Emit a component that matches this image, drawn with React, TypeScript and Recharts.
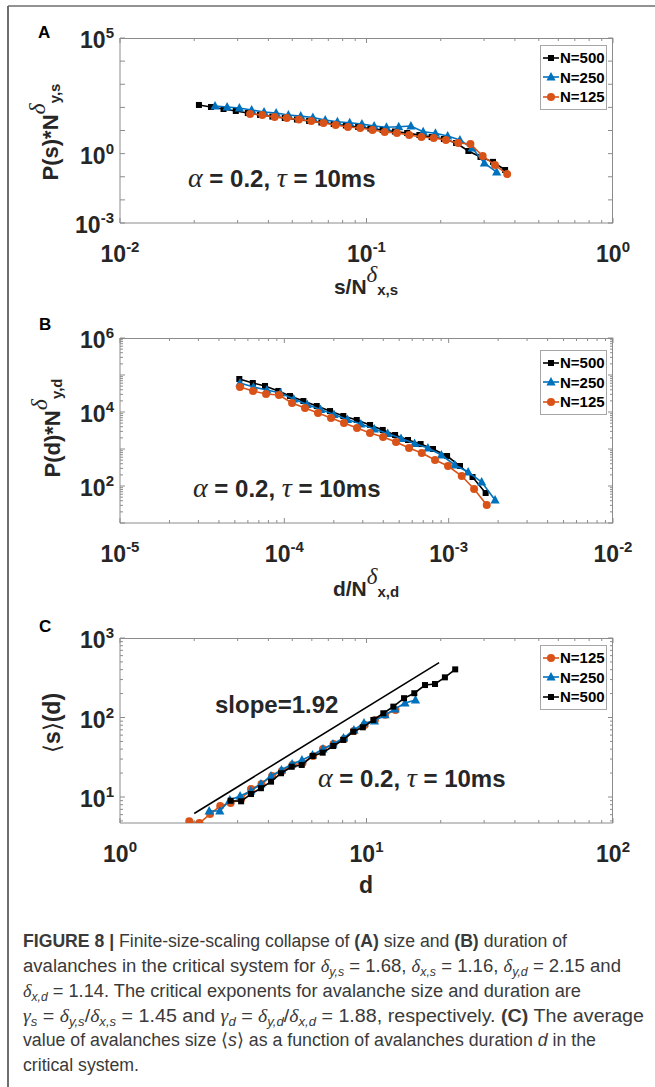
import React from 'react';
import { ScatterChart, Scatter, XAxis, YAxis, Legend } from 'recharts';

// ---- panel A : size collapse, P(s)*N^dys vs s/N^dxs ----
const aX500 = [0.0209, 0.0234, 0.0263, 0.0295, 0.033, 0.037, 0.0415, 0.0466, 0.0522, 0.0585, 0.0656, 0.0736, 0.0825, 0.0925, 0.1037, 0.1163, 0.1304, 0.1462, 0.1639, 0.1837, 0.206, 0.231, 0.259, 0.29, 0.326, 0.365];
const aY500 = [127, 104, 85, 70, 57, 47, 40, 34.7, 29.9, 25.8, 22.2, 19.1, 16.5, 14.2, 12.2, 10.5, 9.05, 7.8, 6.4, 5.2, 4.29, 2.88, 1.3, 0.72, 0.44, 0.196];
const aX250 = [0.0243, 0.0272, 0.0305, 0.0342, 0.0384, 0.043, 0.0482, 0.0541, 0.0606, 0.068, 0.0762, 0.0855, 0.0958, 0.1074, 0.1205, 0.1351, 0.1514, 0.1698, 0.1904, 0.2134, 0.2393, 0.2683, 0.3008, 0.3373];
const aY250 = [115, 104, 94, 77, 63, 57, 47, 42, 36.5, 28.5, 24.0, 21.7, 19.1, 15.7, 13.8, 14.6, 15.7, 8.87, 7.56, 5.78, 3.88, 1.75, 0.39, 0.16];
const aX125 = [0.0337, 0.0378, 0.0424, 0.0475, 0.0532, 0.0597, 0.0669, 0.075, 0.0841, 0.0943, 0.1057, 0.1185, 0.1329, 0.149, 0.1671, 0.1873, 0.21, 0.2355, 0.264, 0.296, 0.3319, 0.3721];
const aY125 = [52, 47, 38, 34.7, 29.9, 25.8, 21.1, 17.3, 14.2, 12.8, 10.5, 8.6, 7.8, 6.4, 5.2, 4.74, 3.88, 2.88, 2.61, 0.79, 0.32, 0.13];

// ---- panel B : duration collapse ----
const bX500 = [5.32e-5, 6.43e-5, 7.63e-5, 9.19e-5, 1.083e-4, 1.306e-4, 1.575e-4, 1.897e-4, 2.286e-4, 2.759e-4, 3.325e-4, 3.97e-4, 4.72e-4, 5.66e-4, 6.75e-4, 8.03e-4, 9.78e-4, 1.172e-3, 1.397e-3, 1.679e-3];
const bY500 = [78000, 60800, 50500, 37000, 27100, 19800, 14500, 10600, 7800, 6080, 4460, 3270, 2390, 1750, 1360, 1000, 647, 347, 175, 64.7];
const bX250 = [5.37e-5, 6.49e-5, 7.83e-5, 9.46e-5, 1.141e-4, 1.377e-4, 1.661e-4, 2.004e-4, 2.421e-4, 2.922e-4, 3.526e-4, 4.254e-4, 5.13e-4, 6.2e-4, 7.48e-4, 9.03e-4, 1.089e-3, 1.314e-3, 1.588e-3, 1.916e-3];
const bY250 = [60800, 47400, 39400, 32700, 22400, 15900, 11700, 8560, 6270, 4740, 3470, 2620, 1920, 1410, 1060, 689, 370, 239, 128, 41.9];
const bX125 = [5.37e-5, 6.45e-5, 7.74e-5, 9.28e-5, 1.114e-4, 1.336e-4, 1.603e-4, 1.923e-4, 2.307e-4, 2.768e-4, 3.32e-4, 3.99e-4, 4.78e-4, 5.74e-4, 6.86e-4, 8.26e-4, 9.91e-4, 1.201e-3, 1.428e-3, 1.705e-3];
const bY125 = [47400, 37000, 30600, 28800, 17500, 12800, 9400, 6880, 5040, 3700, 2700, 2110, 1550, 1060, 780, 505, 347, 186, 83, 30.6];

// ---- panel C : <s>(d) ----
const cX125 = [1.91, 2.1, 2.32, 2.55, 2.81, 3.1, 3.4, 3.75, 4.14, 4.54, 5.01, 5.5, 6.07, 6.66, 7.35, 8.11, 8.89, 9.82, 10.82, 11.89, 13.11];
const cY125 = [4.95, 4.71, 6.1, 7.7, 8.4, 9.45, 12.6, 14.6, 18.4, 21.2, 25.3, 26.8, 32.8, 40.2, 46.4, 53.7, 67.7, 80.5, 93.1, 108, 124];
const cX250 = [2.3, 2.54, 2.79, 3.07, 3.39, 3.73, 4.1, 4.52, 4.99, 5.47, 6.04, 6.66, 7.31, 8.07, 8.89, 9.77, 10.77, 11.89, 13.05, 14.33, 15.8];
const cY250 = [6.67, 6.67, 9.16, 10.3, 11.9, 14.6, 18.4, 21.9, 26.0, 29.2, 33.7, 40.2, 46.4, 55.2, 69.7, 85.3, 90.4, 108, 128, 152, 166];
const cX500 = [2.81, 3.1, 3.4, 3.73, 4.1, 4.5, 4.97, 5.46, 6.05, 6.64, 7.33, 8.05, 8.84, 9.66, 10.66, 11.7, 12.85, 14.2, 15.63, 17.27, 18.96, 20.8, 22.9];
const cY500 = [8.98, 8.83, 10.9, 12.9, 15.6, 19.9, 24.0, 25.3, 32.8, 36.1, 43.8, 52.2, 66.3, 75.3, 93.1, 113, 137, 175, 202, 256, 264, 320, 403];
// reference line, slope 1.92
const cSlopeX = [2, 19.7];
const cSlopeY = [6.2, 490];

// tick labels shown on each axis (other decades only get a tick mark)
const aXLabels = [1e-2, 1e-1, 1];
const aYLabels = [1e-3, 1, 1e5];
const bXLabels = [1e-5, 1e-4, 1e-3, 1e-2];
const bYLabels = [1e2, 1e4, 1e6];
const cXLabels = [1, 10, 100];
const cYLabels = [10, 100, 1000];

const SANS = '"Liberation Sans", Arial, Helvetica, sans-serif';
const SERIF = '"Liberation Serif", "Times New Roman", serif';
const INK = '#262626';
const AXIS = '#8c8c8c';
const BLACK = '#000000';
const BLUE = '#0072BD';
const ORANGE = '#D95319';

const CHART_W = 655;
const CHART_H = 265;
const M_TOP = 20;
const PLOT_LEFT = 120;
const PLOT_W = 493;
const PLOT_H = 185;

type Kind = 'square' | 'triangle' | 'circle';
type Series = { name: string; color: string; kind: Kind; xs: number[]; ys: number[] };

const s500A: Series = { name: 'N=500', color: BLACK, kind: 'square', xs: aX500, ys: aY500 };
const s250A: Series = { name: 'N=250', color: BLUE, kind: 'triangle', xs: aX250, ys: aY250 };
const s125A: Series = { name: 'N=125', color: ORANGE, kind: 'circle', xs: aX125, ys: aY125 };
const s500B: Series = { name: 'N=500', color: BLACK, kind: 'square', xs: bX500, ys: bY500 };
const s250B: Series = { name: 'N=250', color: BLUE, kind: 'triangle', xs: bX250, ys: bY250 };
const s125B: Series = { name: 'N=125', color: ORANGE, kind: 'circle', xs: bX125, ys: bY125 };
const s125C: Series = { name: 'N=125', color: ORANGE, kind: 'circle', xs: cX125, ys: cY125 };
const s250C: Series = { name: 'N=250', color: BLUE, kind: 'triangle', xs: cX250, ys: cY250 };
const s500C: Series = { name: 'N=500', color: BLACK, kind: 'square', xs: cX500, ys: cY500 };

const toRows = (xs: number[], ys: number[]) => xs.map((x, i) => ({ x, y: ys[i] }));

function logTicks(lo: number, hi: number, minor: boolean): number[] {
  const out: number[] = [];
  for (let e = Math.floor(Math.log10(lo)); e <= Math.ceil(Math.log10(hi)); e++) {
    const ks = minor ? [1, 2, 3, 4, 5, 6, 7, 8, 9] : [1];
    for (const k of ks) {
      const v = k * Math.pow(10, e);
      if (v >= lo * 0.999 && v <= hi * 1.001) out.push(v);
    }
  }
  return out;
}
const isDecade = (v: number) => Math.abs(Math.log10(v) - Math.round(Math.log10(v))) < 1e-6;
const labelled = (v: number, labels: number[]) => labels.some((l) => Math.abs(Math.log10(l) - Math.log10(v)) < 1e-6);

function Pow({ x, y, v, anchor }: { x: number; y: number; v: number; anchor: 'middle' | 'end' }) {
  return (
    <text x={x} y={y} textAnchor={anchor} fill={INK} fontFamily={SANS} fontWeight="bold" fontSize={23}>
      <tspan>10</tspan>
      <tspan fontSize={15} dy={-10}>{String(Math.round(Math.log10(v)))}</tspan>
    </text>
  );
}

function XTick(props: any) {
  const { x, payload, labels } = props;
  const v = payload.value;
  const len = isDecade(v) ? 5 : 3;
  const yb = M_TOP + PLOT_H;
  return (
    <g>
      <line x1={x} x2={x} y1={yb} y2={yb - len} stroke={AXIS} />
      <line x1={x} x2={x} y1={M_TOP} y2={M_TOP + len} stroke={AXIS} />
      {labelled(v, labels) && <Pow x={x} y={yb + 39} v={v} anchor="middle" />}
    </g>
  );
}

function YTick(props: any) {
  const { y, payload, labels } = props;
  const v = payload.value;
  const len = isDecade(v) ? 5 : 3;
  return (
    <g>
      <line x1={PLOT_LEFT} x2={PLOT_LEFT + len} y1={y} y2={y} stroke={AXIS} />
      <line x1={PLOT_LEFT + PLOT_W} x2={PLOT_LEFT + PLOT_W - len} y1={y} y2={y} stroke={AXIS} />
      {labelled(v, labels) && <Pow x={PLOT_LEFT - 6} y={y + 10} v={v} anchor="end" />}
    </g>
  );
}

function Mark({ kind, cx, cy, color }: { kind: Kind; cx: number; cy: number; color: string }) {
  if (kind === 'square') return <rect x={cx - 3} y={cy - 3} width={6} height={6} fill={color} />;
  if (kind === 'triangle')
    return <polygon points={`${cx},${cy - 5} ${cx + 4.6},${cy + 3.5} ${cx - 4.6},${cy + 3.5}`} fill={color} />;
  return <circle cx={cx} cy={cy} r={4} fill={color} />;
}

function LegendBox({ items }: { items: Series[] }) {
  return (
    <div style={{ width: 65, border: '1px solid #a6a6a6', background: '#fff', padding: '2px 0' }}>
      {items.map((s) => (
        <div key={s.name} style={{ display: 'flex', alignItems: 'center', height: 19.5 }}>
          <svg width={18} height={12} style={{ marginLeft: 1 }}>
            <line x1={1} x2={17} y1={6} y2={6} stroke={s.color} strokeWidth={1.6} />
            <Mark kind={s.kind} cx={9} cy={6} color={s.color} />
          </svg>
          <span style={{ fontFamily: SANS, fontWeight: 'bold', fontSize: 15, color: '#000', lineHeight: '15px' }}>{s.name}</span>
        </div>
      ))}
    </div>
  );
}

type PanelProps = {
  plotTop: number;
  xDomain: [number, number];
  yDomain: [number, number];
  xMinor: boolean;
  yMinor: boolean;
  xLabels: number[];
  yLabels: number[];
  series: Series[];
  legend: Series[];
  legendTop: number;
  guide?: { xs: number[]; ys: number[] };
};

function Panel({ plotTop, xDomain, yDomain, xMinor, yMinor, xLabels, yLabels, series, legend, legendTop, guide }: PanelProps) {
  const chartTop = plotTop - M_TOP;
  const xTicks = logTicks(xDomain[0], xDomain[1], xMinor);
  const yTicks = logTicks(yDomain[0], yDomain[1], yMinor);
  return (
    <div style={{ position: 'absolute', left: 0, top: chartTop, width: CHART_W, height: CHART_H }}>
      <ScatterChart width={CHART_W} height={CHART_H} margin={{ top: M_TOP, right: CHART_W - PLOT_LEFT - PLOT_W, bottom: 20, left: 60 }}>
        <XAxis
          type="number"
          dataKey="x"
          scale="log"
          domain={xDomain}
          allowDataOverflow
          ticks={xTicks}
          interval={0}
          height={40}
          tickSize={0}
          tickMargin={0}
          tickLine={false}
          axisLine={{ stroke: AXIS }}
          tick={(p: any) => <XTick {...p} labels={xLabels} />}
        />
        <YAxis
          type="number"
          dataKey="y"
          scale="log"
          domain={yDomain}
          allowDataOverflow
          ticks={yTicks}
          interval={0}
          width={60}
          tickSize={0}
          tickMargin={0}
          tickLine={false}
          axisLine={{ stroke: AXIS }}
          tick={(p: any) => <YTick {...p} labels={yLabels} />}
        />
        {guide && (
          <Scatter
            name="slope"
            data={toRows(guide.xs, guide.ys)}
            fill="#000"
            line={{ stroke: '#000', strokeWidth: 1.6 }}
            shape={() => <g />}
            legendType="none"
            isAnimationActive={false}
          />
        )}
        {series.map((s) => (
          <Scatter
            key={s.name}
            name={s.name}
            data={toRows(s.xs, s.ys)}
            fill={s.color}
            line={{ stroke: s.color, strokeWidth: 1.6 }}
            shape={(p: any) => <Mark kind={s.kind} cx={p.cx} cy={p.cy} color={s.color} />}
            isAnimationActive={false}
          />
        ))}
        <Legend
          layout="vertical"
          align="center"
          verticalAlign="middle"
          wrapperStyle={{ left: 540, top: legendTop - chartTop, width: 67, right: 'auto', bottom: 'auto' }}
          content={() => <LegendBox items={legend} />}
        />
      </ScatterChart>
    </div>
  );
}

const sansB = { fontFamily: SANS, fontWeight: 'bold' as const, fill: INK };
const greek = { fontFamily: SERIF, fontStyle: 'italic' as const, fontWeight: 'normal' as const };

function Params({ x, y }: { x: number; y: number }) {
  return (
    <text x={x} y={y} fontSize={24} {...sansB} style={{ whiteSpace: 'pre' }}>
      <tspan {...greek} fontSize={28}>α</tspan>
      <tspan>{' = 0.2, '}</tspan>
      <tspan {...greek} fontSize={28}>τ</tspan>
      <tspan>{' = 10ms'}</tspan>
    </text>
  );
}

function Overlay() {
  const cap = { fontFamily: SANS, fontSize: 18, fill: '#3a3a3a', style: { whiteSpace: 'pre' as const } };
  const it = { fontFamily: SERIF, fontStyle: 'italic' as const };
  const sub = { fontSize: 12, fontStyle: 'italic' as const, dy: 4 };
  const plotTops = [38, 338, 638];
  return (
    <svg width={655} height={1087} style={{ position: 'absolute', left: 0, top: 0, pointerEvents: 'none' }}>
      {/* figure frame */}
      <line x1={8} x2={655} y1={6} y2={6} stroke="#6e6e6e" strokeWidth={1.5} />
      <line x1={8} x2={8} y1={6} y2={1087} stroke="#6e6e6e" strokeWidth={2} />
      {/* top and right edges of the axes boxes */}
      {plotTops.map((t) => (
        <g key={t}>
          <line x1={PLOT_LEFT} x2={PLOT_LEFT + PLOT_W} y1={t + 0.5} y2={t + 0.5} stroke={AXIS} />
          <line x1={PLOT_LEFT + PLOT_W - 0.5} x2={PLOT_LEFT + PLOT_W - 0.5} y1={t} y2={t + PLOT_H} stroke={AXIS} />
        </g>
      ))}

      {/* panel letters */}
      <text x={38} y={38} fontSize={17} {...sansB} fill="#000">A</text>
      <text x={39} y={330} fontSize={17} {...sansB} fill="#000">B</text>
      <text x={39} y={632} fontSize={17} {...sansB} fill="#000">C</text>

      {/* axis titles */}
      <text x={366} y={294} textAnchor="middle" {...sansB} fontSize={21}>
        <tspan>s/N</tspan>
        <tspan {...greek} fontSize={23} dy={-12}>δ</tspan>
        <tspan fontSize={15} dy={13}>x,s</tspan>
      </text>
      <text transform="translate(58,132) rotate(-90)" textAnchor="middle" {...sansB} fontSize={22}>
        <tspan>P(s)*N</tspan>
        <tspan {...greek} fontSize={24} dy={-13}>δ</tspan>
        <tspan fontSize={15} dy={15}>y,s</tspan>
      </text>
      <text x={366} y={596} textAnchor="middle" {...sansB} fontSize={21}>
        <tspan>d/N</tspan>
        <tspan {...greek} fontSize={23} dy={-12}>δ</tspan>
        <tspan fontSize={15} dy={13}>x,d</tspan>
      </text>
      <text transform="translate(60,428) rotate(-90)" textAnchor="middle" {...sansB} fontSize={22}>
        <tspan>P(d)*N</tspan>
        <tspan {...greek} fontSize={24} dy={-13}>δ</tspan>
        <tspan fontSize={15} dy={15}>y,d</tspan>
      </text>
      <text x={366} y={893} textAnchor="middle" {...sansB} fontSize={23}>d</text>
      <text transform="translate(60,723) rotate(-90)" textAnchor="middle" {...sansB} fontSize={23}>
        <tspan fontFamily={SERIF} fontWeight="normal">⟨</tspan>
        <tspan>s</tspan>
        <tspan fontFamily={SERIF} fontWeight="normal">⟩</tspan>
        <tspan>(d)</tspan>
      </text>

      {/* annotations */}
      <Params x={188} y={187} />
      <Params x={193} y={497} />
      <Params x={318} y={787} />
      <text x={215} y={713} fontSize={24} {...sansB}>slope=1.92</text>

      {/* caption */}
      <text x={23} y={947} textLength={544} lengthAdjust="spacingAndGlyphs" {...cap}>
        <tspan fontWeight="bold">{'FIGURE 8 | '}</tspan>
        <tspan>{'Finite-size-scaling collapse of '}</tspan>
        <tspan fontWeight="bold">(A)</tspan>
        <tspan>{' size and '}</tspan>
        <tspan fontWeight="bold">(B)</tspan>
        <tspan>{' duration of'}</tspan>
      </text>
      <text x={23} y={972} textLength={598} lengthAdjust="spacingAndGlyphs" {...cap}>
        <tspan>{'avalanches in the critical system for '}</tspan>
        <tspan {...it}>δ</tspan>
        <tspan {...sub}>y,s</tspan>
        <tspan dy={-4}>{' = 1.68, '}</tspan>
        <tspan {...it}>δ</tspan>
        <tspan {...sub}>x,s</tspan>
        <tspan dy={-4}>{' = 1.16, '}</tspan>
        <tspan {...it}>δ</tspan>
        <tspan {...sub}>y,d</tspan>
        <tspan dy={-4}>{' = 2.15 and'}</tspan>
      </text>
      <text x={23} y={997} textLength={558} lengthAdjust="spacingAndGlyphs" {...cap}>
        <tspan {...it}>δ</tspan>
        <tspan {...sub}>x,d</tspan>
        <tspan dy={-4}>{' = 1.14. The critical exponents for avalanche size and duration are'}</tspan>
      </text>
      <text x={23} y={1022} textLength={621} lengthAdjust="spacingAndGlyphs" {...cap}>
        <tspan {...it}>γ</tspan>
        <tspan {...sub}>s</tspan>
        <tspan dy={-4}>{' = '}</tspan>
        <tspan {...it}>δ</tspan>
        <tspan {...sub}>y,s</tspan>
        <tspan dy={-4}>/</tspan>
        <tspan {...it}>δ</tspan>
        <tspan {...sub}>x,s</tspan>
        <tspan dy={-4}>{' = 1.45 and '}</tspan>
        <tspan {...it}>γ</tspan>
        <tspan {...sub}>d</tspan>
        <tspan dy={-4}>{' = '}</tspan>
        <tspan {...it}>δ</tspan>
        <tspan {...sub}>y,d</tspan>
        <tspan dy={-4}>/</tspan>
        <tspan {...it}>δ</tspan>
        <tspan {...sub}>x,d</tspan>
        <tspan dy={-4}>{' = 1.88, respectively. '}</tspan>
        <tspan fontWeight="bold">(C)</tspan>
        <tspan>{' The average'}</tspan>
      </text>
      <text x={23} y={1046} textLength={573} lengthAdjust="spacingAndGlyphs" {...cap}>
        <tspan>{'value of avalanches size ⟨'}</tspan>
        <tspan fontStyle="italic">s</tspan>
        <tspan>{'⟩ as a function of avalanches duration '}</tspan>
        <tspan fontStyle="italic">d</tspan>
        <tspan>{' in the'}</tspan>
      </text>
      <text x={23} y={1071} textLength={116} lengthAdjust="spacingAndGlyphs" {...cap}>
        critical system.
      </text>
    </svg>
  );
}

export default function App() {
  return (
    <div style={{ position: 'absolute', left: 0, top: 0, width: 655, height: 1087, background: '#fff', overflow: 'hidden' }}>
      <Panel
        plotTop={38}
        xDomain={[0.01, 1]}
        yDomain={[1e-3, 1e5]}
        xMinor
        yMinor={false}
        xLabels={aXLabels}
        yLabels={aYLabels}
        series={[s500A, s250A, s125A]}
        legend={[s500A, s250A, s125A]}
        legendTop={45}
      />
      <Panel
        plotTop={338}
        xDomain={[1e-5, 1e-2]}
        yDomain={[10, 1e6]}
        xMinor
        yMinor
        xLabels={bXLabels}
        yLabels={bYLabels}
        series={[s500B, s250B, s125B]}
        legend={[s500B, s250B, s125B]}
        legendTop={350}
      />
      <Panel
        plotTop={638}
        xDomain={[1, 100]}
        yDomain={[4.71, 1000]}
        xMinor
        yMinor
        xLabels={cXLabels}
        yLabels={cYLabels}
        series={[s125C, s250C, s500C]}
        legend={[s125C, s250C, s500C]}
        legendTop={645}
        guide={{ xs: cSlopeX, ys: cSlopeY }}
      />
      <Overlay />
    </div>
  );
}
